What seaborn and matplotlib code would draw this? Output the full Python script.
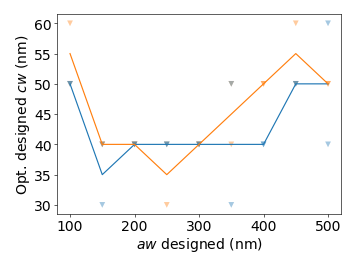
import numpy as np
import pandas as pd
import matplotlib
matplotlib.use("Agg")
import matplotlib.pyplot as plt
import seaborn as sns

aw = [100, 150, 200, 250, 300, 350, 400, 450, 500]
# two runs per aw for each series
blue_run1 = [50, 40, 40, 40, 40, 30, 40, 50, 60]
blue_run2 = [50, 30, 40, 40, 40, 50, 40, 50, 40]
orange_run1 = [60, 40, 40, 30, 40, 50, 50, 60, 50]
orange_run2 = [50, 40, 40, 40, 40, 40, 50, 50, 50]

rows = []
for series, r1, r2 in [("B", orange_run1, orange_run2), ("A", blue_run1, blue_run2)]:
    for x, a, b in zip(aw, r1, r2):
        rows.append({"aw": x, "cw": a, "series": series})
        rows.append({"aw": x, "cw": b, "series": series})
df = pd.DataFrame(rows)

plt.rcParams["font.family"] = ["DejaVu Sans"]
DPI = 357 / 6.4
fig, ax = plt.subplots(figsize=(6.4, 4.8), dpi=DPI)
palette = {"A": "#1f77b4", "B": "#ff7f0e"}
order = ["A", "B"]
sns.lineplot(data=df, x="aw", y="cw", hue="series", hue_order=order, palette=palette,
             errorbar=None, linewidth=1.5, ax=ax, legend=False)
sns.scatterplot(data=df, x="aw", y="cw", hue="series", hue_order=order, palette=palette,
                marker="v", s=55, alpha=0.4, linewidth=0, ax=ax, legend=False)

ax.set_xticks([100, 200, 300, 400, 500])
ax.set_yticks([30, 35, 40, 45, 50, 55, 60])
ax.tick_params(labelsize=18)
ax.set_xlabel("$aw$ designed (nm)", fontsize=18, labelpad=2)
ax.set_ylabel("Opt. designed $cw$ (nm)", fontsize=18, labelpad=2)
fig.subplots_adjust(left=0.16, right=0.955, top=0.944, bottom=0.198)
fig.savefig("out.png", dpi=DPI)
